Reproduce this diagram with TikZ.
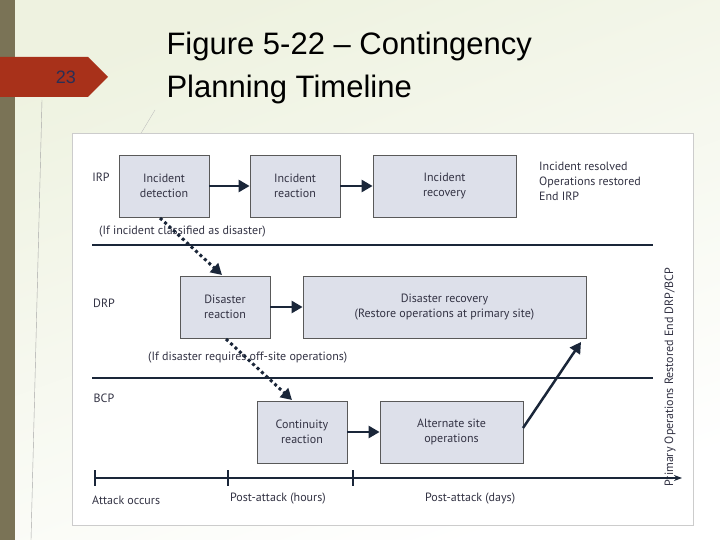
\documentclass[tikz,border=0pt]{standalone}
\usepackage{fontspec}
\setmainfont{PT Sans}
\newfontfamily\titlefont{Liberation Sans}
\usetikzlibrary{arrows.meta}
\definecolor{bgc}{HTML}{EEF2E0}
\definecolor{strip}{HTML}{7A7356}
\definecolor{tab}{HTML}{A8311A}
\definecolor{boxf}{HTML}{DDE0EA}
\definecolor{navy}{HTML}{1A2639}
\definecolor{txt}{HTML}{333344}
\definecolor{numc}{HTML}{2A2F55}
\begin{document}
\begin{tikzpicture}[x=1pt,y=-1pt,
  box/.style={draw=gray!70!black,fill=boxf,line width=0.8pt,align=center,font=\fontsize{12}{15}\selectfont\color{txt},inner sep=0pt},
  lbl/.style={font=\fontsize{12}{15}\selectfont\color{txt},inner sep=0pt},
  arr/.style={navy,line width=2.5pt,-{Triangle[length=11pt,width=12pt]}},
  dot/.style={navy,line width=3pt,dash pattern=on 3pt off 3pt,-{Triangle[length=11pt,width=12pt]}}]
\useasboundingbox (0,0) rectangle (720,540);
\shade[top color=white,bottom color=bgc,shading angle=200] (0,0) rectangle (720,540);
\fill[strip] (0,0) rectangle (15,540);
\fill[tab] (0,57) -- (88,57) -- (108,77) -- (88,97) -- (0,97) -- cycle;
\node[font=\fontsize{18}{20}\selectfont\titlefont,text=numc] (num) at (66,77) {23};
\draw[gray!70] (42,100) -- (31,540);
\draw[gray!50] (155,110) -- (140,135);
\node[anchor=west,font=\fontsize{31}{43}\selectfont\titlefont,align=left,text=black] (title) at (163,68) {Figure 5-22 – Contingency\\Planning Timeline};
\node[draw=gray!40,fill=white,minimum width=621pt,minimum height=392pt,anchor=north west,inner sep=0pt] (panel) at (72,133) {};
% boxes
\node[box,minimum width=90pt,minimum height=62pt] (idet) at (164,186) {Incident\\detection};
\node[box,minimum width=90pt,minimum height=62pt] (irea) at (295,186) {Incident\\reaction};
\node[box,minimum width=143pt,minimum height=62pt] (irec) at (444.5,186) {Incident\\recovery};
\node[box,minimum width=90pt,minimum height=62pt] (drea) at (225,307) {Disaster\\reaction};
\node[box,minimum width=283pt,minimum height=62pt] (drec) at (444.5,307) {Disaster recovery\\(Restore operations at primary site)};
\node[box,minimum width=90pt,minimum height=62pt] (crea) at (302,432) {Continuity\\reaction};
\node[box,minimum width=143pt,minimum height=62pt] (alt) at (451.5,432) {Alternate site\\operations};
% labels
\node[lbl] (irp) at (101,177) {IRP};
\node[lbl] (drp) at (104,303) {DRP};
\node[lbl] (bcp) at (104,398) {BCP};
\node[lbl,anchor=west,align=left] (res) at (539,181) {Incident resolved\\Operations restored\\End IRP};
\node[lbl,rotate=90] (prim) at (670,377) {Primary Operations Restored End DRP/BCP};
\node[lbl,anchor=west] (c1) at (99,232) {(If incident classified as disaster)};
\node[lbl,anchor=west] (c2) at (148,358) {(If disaster requires off-site operations)};
\node[lbl,anchor=west] (t1) at (92,500) {Attack occurs};
\node[lbl,anchor=west] (t2) at (230,499) {Post-attack (hours)};
\node[lbl,anchor=west] (t3) at (425,499) {Post-attack (days)};
% lines
\coordinate (l1a) at (92,245); \coordinate (l1b) at (653,245);
\coordinate (l2a) at (92,378); \coordinate (l2b) at (653,378);
\draw[navy,line width=1.4pt] (l1a) -- (l1b);
\draw[navy,line width=1.4pt] (l2a) -- (l2b);
\coordinate (ta) at (95,478); \coordinate (tb) at (682,478);
\draw[navy,line width=1.4pt,-{Stealth[length=8pt]}] (ta) -- (tb);
\foreach \x in {95,228,353} \draw[navy,line width=1.4pt] (\x,470) -- (\x,486);
% arrows
\draw[arr] (idet) -- (irea);
\draw[arr] (irea) -- (irec);
\draw[arr] (drea) -- (drec);
\draw[arr] (crea) -- (alt);
\coordinate (d1s) at (160,218); \coordinate (d1e) at (222,275);
\draw[dot] (d1s) -- (d1e);
\coordinate (d2s) at (226,339); \coordinate (d2e) at (292,400);
\draw[dot] (d2s) -- (d2e);
\coordinate (ae) at (581,342);
\coordinate (as) at (523,428);
\draw[arr] (as) -- (ae);
\end{tikzpicture}
\end{document}
